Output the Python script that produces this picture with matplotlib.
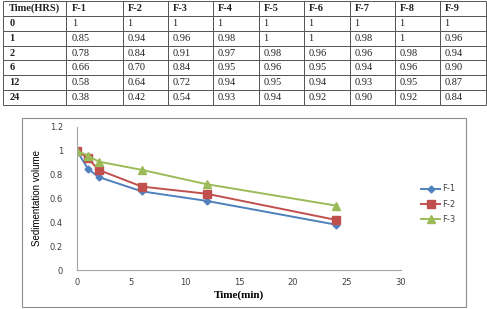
import matplotlib
matplotlib.use('Agg')
import matplotlib.pyplot as plt
from matplotlib.patches import Rectangle
from matplotlib.ticker import FuncFormatter

# table data
col_labels = ['Time(HRS)', 'F-1', 'F-2', 'F-3', 'F-4', 'F-5', 'F-6', 'F-7', 'F-8', 'F-9']
time_hrs = ['0', '1', '2', '6', '12', '24']
f1 = ['1', '0.85', '0.78', '0.66', '0.58', '0.38']
f2 = ['1', '0.94', '0.84', '0.70', '0.64', '0.42']
f3 = ['1', '0.96', '0.91', '0.84', '0.72', '0.54']
f4 = ['1', '0.98', '0.97', '0.95', '0.94', '0.93']
f5 = ['1', '1', '0.98', '0.96', '0.95', '0.94']
f6 = ['1', '1', '0.96', '0.95', '0.94', '0.92']
f7 = ['1', '0.98', '0.96', '0.94', '0.93', '0.90']
f8 = ['1', '1', '0.98', '0.96', '0.95', '0.92']
f9 = ['1', '0.96', '0.94', '0.90', '0.87', '0.84']

# chart data
t = [0, 1, 2, 6, 12, 24]
series = {
    'F-1': [1, 0.85, 0.78, 0.66, 0.58, 0.38],
    'F-2': [1, 0.94, 0.84, 0.70, 0.64, 0.42],
    'F-3': [1, 0.96, 0.91, 0.84, 0.72, 0.54],
}
colors = {'F-1': '#4F81BD', 'F-2': '#C0504D', 'F-3': '#9BBB59'}
markers = {'F-1': ('D', 3.5), 'F-2': ('s', 5.5), 'F-3': ('^', 5.5)}

W, H = 487, 309
fig = plt.figure(figsize=(W / 100, H / 100), dpi=100)

# ---- table ----
ax_t = fig.add_axes([0, 0, 1, 1])
ax_t.axis('off')
cols = [time_hrs, f1, f2, f3, f4, f5, f6, f7, f8, f9]
rows = [list(r) for r in zip(*cols)]
col_w = [63, 57, 45, 45, 46, 45, 46, 45, 45, 46]
tot = sum(col_w)
tab = ax_t.table(cellText=rows, colLabels=col_labels,
                 colWidths=[c / tot for c in col_w], cellLoc='left',
                 colLoc='left',
                 bbox=[3 / W, 1 - 105 / H, tot / W, 104 / H])
tab.auto_set_font_size(False)
tab.set_fontsize(7.5)
for (r, c), cell in tab.get_celld().items():
    cell.set_edgecolor('#555555')
    cell.set_linewidth(0.7)
    txt = cell.get_text()
    txt.set_family('Liberation Serif')
    txt.set_color('#222222')
    if r == 0 or c == 0:
        txt.set_fontweight('bold')

# ---- chart frame ----
fig.patches.append(Rectangle((22 / W, 2 / H), 444 / W, 189 / H,
                             transform=fig.transFigure, fill=False,
                             edgecolor='#8c8c8c', linewidth=0.8))

ax = fig.add_axes([77 / W, 39 / H, 324 / W, 143 / H])
for name, vals in series.items():
    m, ms = markers[name]
    ax.plot(t, vals, color=colors[name], marker=m, markersize=ms,
            linewidth=1.4, label=name)

ax.set_xlim(0, 30)
ax.set_ylim(0, 1.2)
ax.set_xticks(range(0, 31, 5))
ax.set_yticks([0, 0.2, 0.4, 0.6, 0.8, 1.0, 1.2])
ax.yaxis.set_major_formatter(FuncFormatter(lambda v, p: '%g' % v))
for s in ['top', 'right']:
    ax.spines[s].set_visible(False)
for s in ['left', 'bottom']:
    ax.spines[s].set_color('#a6a6a6')
    ax.spines[s].set_linewidth(0.8)
ax.tick_params(length=0, labelsize=6, colors='#404040', pad=6)
ax.tick_params(axis='y', pad=10)
ax.set_facecolor('none')

ax.set_ylabel('Sedimentation volume', fontsize=7, family='Liberation Sans',
              labelpad=6)
ax.set_xlabel('Time(min)', fontsize=8, family='Liberation Serif',
              fontweight='bold', labelpad=2)

leg = ax.legend(loc='center left', bbox_to_anchor=(1.04, 0.46), frameon=False,
                fontsize=6, handlelength=2.2, handletextpad=0.3,
                labelspacing=0.75)
for txt in leg.get_texts():
    txt.set_color('#404040')

fig.savefig('out.png', dpi=100)
